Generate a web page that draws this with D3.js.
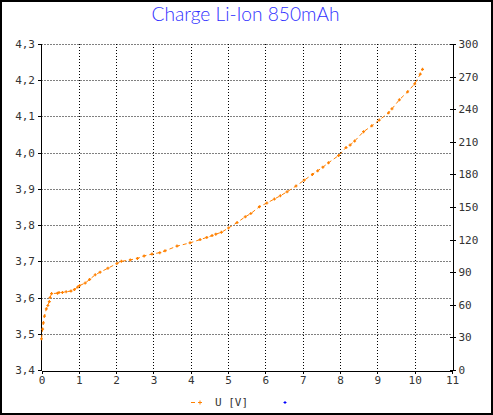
<!DOCTYPE html>
<html>
<head>
<meta charset="utf-8">
<script src="https://cdn.jsdelivr.net/npm/d3@7"></script>
<style>
  body { margin: 0; background: #fff; }
  svg { display: block; }
</style>
</head>
<body>
<svg width="493" height="415"></svg>
<script>
var width = 493;
var height = 415;

// charge data
var hours = [0, 0.03, 0.05, 0.08, 0.13, 0.17, 0.21, 0.23, 0.27, 0.43, 0.47, 0.56, 0.66, 0.79, 0.88, 0.97, 1.02, 1.17, 1.29, 1.44,
  1.57, 1.78, 2.02, 2.14, 2.38, 2.57, 2.75, 2.96, 3.17, 3.31, 3.63, 3.98, 4.25, 4.43, 4.57, 4.67, 4.82, 5.01, 5.24, 5.46,
  5.61, 5.84, 6.04, 6.24, 6.40, 6.58, 6.82, 7.04, 7.26, 7.40, 7.54, 7.69, 7.96, 8.16, 8.27, 8.39, 8.63, 8.85, 9.05, 9.30,
  9.39, 9.59, 9.81, 10.0, 10.15, 10.21];
var voltage = [3.486, 3.513, 3.53, 3.549, 3.569, 3.578, 3.589, 3.6, 3.611, 3.612, 3.614, 3.614, 3.616, 3.618, 3.622, 3.629, 3.633, 3.64, 3.65, 3.663,
  3.67, 3.681, 3.694, 3.70, 3.704, 3.708, 3.715, 3.72, 3.724, 3.729, 3.742, 3.751, 3.760, 3.766, 3.771, 3.775, 3.780, 3.792, 3.807, 3.823,
  3.832, 3.851, 3.861, 3.872, 3.881, 3.892, 3.908, 3.924, 3.94, 3.95, 3.96, 3.972, 3.992, 4.014, 4.021, 4.032, 4.058, 4.074, 4.09, 4.11,
  4.121, 4.146, 4.168, 4.19, 4.217, 4.23];

var xTicks = [0, 1, 2, 3, 4, 5, 6, 7, 8, 9, 10, 11];
var leftTicks = [3.4, 3.5, 3.6, 3.7, 3.8, 3.9, 4.0, 4.1, 4.2, 4.3];
var rightTicks = [0, 30, 60, 90, 120, 150, 180, 210, 240, 270, 300];
var legendLabels = ['U [V]', ''];

var plotLeft = 41.5, plotRight = 452, plotTop = 44, plotBottom = 370;

var xScale = d3.scaleLinear().domain([0, 11]).range([plotLeft, plotRight]);
var yScale = d3.scaleLinear().domain([3.4, 4.3]).range([plotBottom, plotTop]);
var y2Scale = d3.scaleLinear().domain([0, 300]).range([plotBottom, plotTop]);

var svg = d3.select('svg');
var fmt = function(d) { return d3.format('.1f')(d).replace('.', ','); };

svg.append('rect')
  .attr('x', 1).attr('y', 1)
  .attr('width', width - 2).attr('height', height - 2)
  .attr('fill', '#fff').attr('stroke', '#000').attr('stroke-width', 2);

svg.append('text')
  .attr('x', 245.5)
  .attr('y', 21)
  .attr('text-anchor', 'middle')
  .attr('font-family', 'Lato')
  .attr('font-weight', 300)
  .attr('font-size', '19px')
  .attr('fill', '#3030ff')
  .attr('textLength', 188)
  .attr('lengthAdjust', 'spacingAndGlyphs')
  .text('Charge Li-Ion 850mAh');

// dotted grid
var grid = svg.append('g')
  .attr('stroke', '#000')
  .attr('stroke-dasharray', '1,2');
grid.selectAll('.hg').data(leftTicks.slice(1)).enter()
  .append('line')
  .attr('x1', plotLeft).attr('x2', plotRight)
  .attr('y1', function(d) { return Math.round(yScale(d)) + 0.5; })
  .attr('y2', function(d) { return Math.round(yScale(d)) + 0.5; });
grid.selectAll('.vg').data(xTicks.slice(1, -1)).enter()
  .append('line')
  .attr('y1', plotTop).attr('y2', plotBottom)
  .attr('x1', function(d) { return Math.round(xScale(d)) + 0.5; })
  .attr('x2', function(d) { return Math.round(xScale(d)) + 0.5; });

var tickFont = function(sel) {
  sel.attr('font-family', 'DejaVu Sans Mono').attr('font-size', '11px').attr('fill', '#333');
};

// left axis
var axisLeft = d3.axisLeft(yScale).tickValues(leftTicks).tickFormat(fmt).tickSize(3).tickPadding(3);
svg.append('g').attr('transform', 'translate(' + (plotLeft - 0.5) + ',0)').call(axisLeft)
  .call(function(g) { g.select('.domain').attr('stroke', '#000'); g.selectAll('text').call(tickFont); });

// right axis
var axisRight = d3.axisRight(y2Scale).tickValues(rightTicks).tickSize(3).tickPadding(3);
var rightAxis = svg.append('g').attr('transform', 'translate(' + (plotRight + 0.5) + ',0)').call(axisRight)
  .call(function(g) { g.select('.domain').attr('stroke', '#000'); g.selectAll('text').call(tickFont); });
rightAxis.selectAll('.tick line').attr('x1', -3);

// bottom axis
var axisBottom = d3.axisBottom(xScale).tickValues(xTicks).tickSize(3).tickPadding(3);
svg.append('g').attr('transform', 'translate(0,' + (plotBottom + 0.5) + ')').call(axisBottom)
  .call(function(g) { g.select('.domain').attr('stroke', '#000'); g.selectAll('text').call(tickFont); });

svg.selectAll('.domain').attr('shape-rendering', 'crispEdges');
svg.selectAll('.tick line').attr('shape-rendering', 'crispEdges');

// voltage curve
var points = hours.map(function(h, i) { return [h, voltage[i]]; });
var line = d3.line()
  .x(function(d) { return xScale(d[0]); })
  .y(function(d) { return yScale(d[1]); });

svg.append('path')
  .datum(points)
  .attr('d', line)
  .attr('fill', 'none')
  .attr('stroke', '#ff8000')
  .attr('stroke-width', 1)
  .attr('stroke-dasharray', '4,3');

svg.append('g').selectAll('path').data(points).enter()
  .append('path')
  .attr('d', 'M-1.5,0H1.5M0,-1.5V1.5')
  .attr('transform', function(d) { return 'translate(' + xScale(d[0]) + ',' + yScale(d[1]) + ')'; })
  .attr('stroke', '#ff8000')
  .attr('stroke-width', 1.2);

// legend
var legend = svg.append('g');
legend.append('line')
  .attr('x1', 191).attr('x2', 195).attr('y1', 402.5).attr('y2', 402.5)
  .attr('stroke', '#ff8000');
legend.append('path')
  .attr('d', 'M198,402.5H202M200,400.5V404.5')
  .attr('stroke', '#ff8000');
legend.append('text')
  .attr('x', 215)
  .attr('y', 406)
  .call(tickFont)
  .text(legendLabels[0]);
legend.append('path')
  .attr('d', 'M283.5,402.5H286.5M285,401V404')
  .attr('stroke', '#0000ff');
</script>
</body>
</html>
